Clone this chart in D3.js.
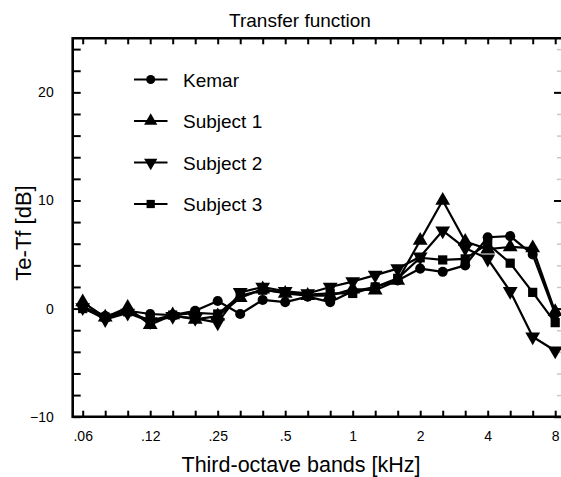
<!DOCTYPE html>
<html><head><meta charset="utf-8">
<script src="https://cdn.jsdelivr.net/npm/d3@7"></script>
<style>body{margin:0;background:#fff}svg{display:block}text{font-family:"Liberation Sans",Arial,sans-serif;fill:#000}</style>
</head><body><svg id="c" width="561" height="477"></svg>
<script>
const bands = ["63","80","100","125","160","200","250","315","400","500","630","800","1000","1250","1600","2000","2500","3150","4000","5000","6300","8000"];
const bandLabels = {"63":".06","125":".12","250":".25","500":".5","1000":"1","2000":"2","4000":"4","8000":"8"};
const kemar    = [0.2,-0.7,-0.2,-0.5,-0.6,-0.2,0.7,-0.5,0.8,0.6,1.1,0.6,1.6,2.0,2.6,3.7,3.4,4.0,6.6,6.7,5.0,-0.5];
const subject1 = [0.6,-0.8,0.1,-1.5,-0.6,-1.0,-0.7,1.0,1.8,1.4,1.2,1.2,1.8,1.7,2.6,6.3,10.0,6.2,5.5,5.7,5.6,-0.3];
const subject2 = [0.1,-1.0,-0.4,-1.2,-0.7,-0.9,-1.3,1.5,2.0,1.6,1.4,2.0,2.5,3.1,3.7,4.8,7.2,5.6,4.6,1.6,-2.6,-3.9];
const subject3 = [0.0,-0.8,-0.3,-1.1,-0.6,-0.4,-0.5,1.2,1.7,1.5,1.3,1.4,1.4,2.0,2.8,4.7,4.5,4.6,6.0,4.2,1.5,-1.3];
const seriesNames = ["Kemar","Subject 1","Subject 2","Subject 3"];
const yMajor = [-10,0,10,20];
const yMinor = [-8,-6,-4,-2,2,4,6,8,12,14,16,18,22,24];

const svg = d3.select("#c");
const L = 72.7, R = 562, T = 38.3, B = 416.7;
const x = d3.scalePoint().domain(bands).range([82.7, 555.2]);
const y = d3.scaleLinear().domain([-10, 25]).range([B, T]);

const series = [
  {name: seriesNames[0], values: kemar,    sym: d3.symbolCircle,   size: 80, rot: 0},
  {name: seriesNames[1], values: subject1, sym: d3.symbolTriangle, size: 95, rot: 0},
  {name: seriesNames[2], values: subject2, sym: d3.symbolTriangle, size: 95, rot: 180},
  {name: seriesNames[3], values: subject3, sym: d3.symbolSquare,   size: 85, rot: 0}
];

// frame
svg.append("path")
  .attr("d", `M${R + 2},${T}H${L}V${B}H${R + 2}`)
  .attr("fill", "none").attr("stroke", "#000").attr("stroke-width", 2.6);

// axes (ticks only)
const gB = svg.append("g").attr("transform", `translate(0,${B})`)
  .call(d3.axisBottom(x).tickSizeInner(-6).tickSizeOuter(0).tickPadding(14)
    .tickFormat(d => bandLabels[d] || ""));
const gT = svg.append("g").attr("transform", `translate(0,${T})`)
  .call(d3.axisTop(x).tickSizeInner(-6).tickSizeOuter(0).tickFormat(""));
const gL = svg.append("g").attr("transform", `translate(${L},0)`)
  .call(d3.axisLeft(y).tickValues(yMajor).tickSizeInner(-8).tickSizeOuter(0).tickPadding(19));
const gLm = svg.append("g").attr("transform", `translate(${L},0)`)
  .call(d3.axisLeft(y).tickValues(yMinor).tickSizeInner(-8).tickSizeOuter(0).tickFormat(""));
const gR = svg.append("g").attr("transform", `translate(${R},0)`)
  .call(d3.axisRight(y).tickValues(yMajor).tickSizeInner(-8).tickSizeOuter(0).tickFormat(""));
const gRm = svg.append("g").attr("transform", `translate(${R},0)`)
  .call(d3.axisRight(y).tickValues(yMinor).tickSizeInner(-5).tickSizeOuter(0).tickFormat(""));
[gB, gT, gL, gLm, gR, gRm].forEach(g => {
  g.select(".domain").remove();
  g.selectAll(".tick line").attr("stroke", "#000").attr("stroke-width", 2);
  g.selectAll("text").attr("font-size", 14).attr("fill", "#000")
    .attr("font-family", "Liberation Sans, Arial, sans-serif");
});
gRm.selectAll(".tick line").attr("stroke", "#c8c8c8").attr("stroke-width", 1.5);

// lines and markers
const line = d3.line().x((d, i) => x(bands[i])).y(d => y(d));
series.forEach(s => {
  svg.append("path").datum(s.values).attr("d", line)
    .attr("fill", "none").attr("stroke", "#000").attr("stroke-width", 2.2).attr("stroke-linejoin", "round");
});
series.forEach(s => {
  svg.append("g").selectAll("path").data(s.values).join("path")
    .attr("d", d3.symbol().type(s.sym).size(s.size))
    .attr("transform", (d, i) => `translate(${x(bands[i])},${y(d)}) rotate(${s.rot})`)
    .attr("fill", "#000");
});

// legend
const legY = [79.5, 121, 162.5, 204];
series.forEach((s, i) => {
  const g = svg.append("g").attr("transform", `translate(0,${legY[i]})`);
  g.append("line").attr("x1", 134).attr("x2", 167.5).attr("y1", 0).attr("y2", 0)
    .attr("stroke", "#000").attr("stroke-width", 2);
  g.append("path").attr("d", d3.symbol().type(s.sym).size(s.size * 0.8))
    .attr("transform", `translate(150.7,0) rotate(${s.rot})`).attr("fill", "#000");
  g.append("text").attr("x", 183).attr("y", 7).attr("font-size", 19).text(s.name);
});

// titles
svg.append("text").attr("x", 300).attr("y", 27).attr("text-anchor", "middle")
  .attr("font-size", 19).text("Transfer function");
svg.append("text").attr("x", 301).attr("y", 472).attr("text-anchor", "middle")
  .attr("font-size", 21.5).text("Third-octave bands [kHz]");
svg.append("text").attr("transform", "translate(31,233) rotate(-90)").attr("text-anchor", "middle")
  .attr("font-size", 22).text("Te-Tf [dB]");
</script></body></html>
